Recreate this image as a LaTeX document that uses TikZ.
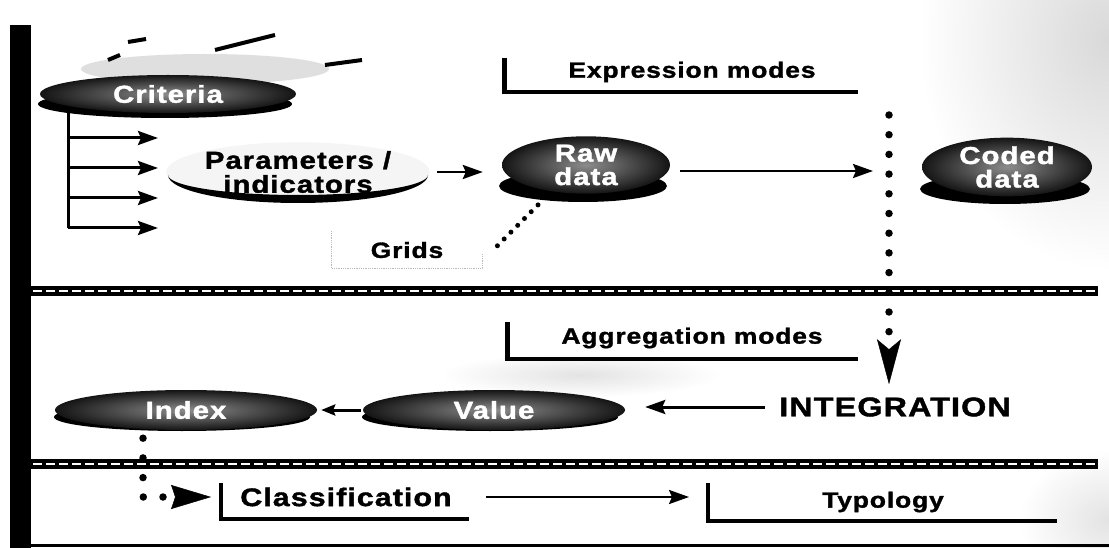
\documentclass[tikz,border=0pt]{standalone}
\usepackage{fontspec}
\newfontfamily\diafont[FakeStretch=1.2, LetterSpace=4, FakeBold=1.5]{Liberation Sans}
\usetikzlibrary{arrows.meta,shapes.geometric}

\begin{document}
\begin{tikzpicture}[x=1pt, y=-1pt,
    blob/.style={ellipse, inner sep=0pt, inner color=black!45, outer color=black!92,
        text=white, align=center, font=\diafont\bfseries\fontsize{24.5}{23.5}\selectfont},
    modelabel/.style={inner sep=0pt, font=\diafont\bfseries\fontsize{22}{22}\selectfont},
    bracket/.style={line width=4.5pt},
    arr/.style={line width=3pt, -{Stealth[length=20pt, width=14pt, inset=3pt]}},
    smallarr/.style={line width=3pt, -{Stealth[length=14pt, width=11pt, inset=2pt]}},
    bigdots/.style={line width=7.5pt, line cap=round, dash pattern=on 0pt off 19.7pt},
    smalldots/.style={line width=5pt, line cap=round, dash pattern=on 0pt off 9.6pt}]

    \fill[white] (0,0) rectangle (1109,548);
    \useasboundingbox (0,0) rectangle (1109,548);

    % grainy backdrop
    \shade[inner color=gray!30, outer color=white] (1109,40) ellipse [x radius=190, y radius=230];
    \shade[inner color=gray!22, outer color=white] (1109,520) ellipse [x radius=90, y radius=70];
    \shade[inner color=gray!22, outer color=white] (580,375) ellipse [x radius=140, y radius=22];

    % frame and separators
    \fill (10,25) rectangle (31,548);
    \draw[line width=3pt] (10,545) -- (1109,545);
    \foreach \y in {291,464} {
        \draw[line width=10pt] (31,\y) -- (1098,\y);
        \draw[white, line width=2.5pt, dash pattern=on 9pt off 4pt] (33,\y) -- (1096,\y);
    }

    % criteria
    \fill[gray!25] (205,69) ellipse [x radius=124, y radius=15];
    \draw[line width=4pt] (108,60) -- (120,55)  (128,42) -- (146,39)
        (215,50) -- (275,35)  (325,65) -- (362,60);
    \fill (165,104) ellipse [x radius=127, y radius=14];
    \node[blob, minimum width=256pt, minimum height=38pt] (crit) at (168,94) {Criteria};

    \coordinate (stem) at (68,113);
    \foreach \i/\y in {1/138, 2/168, 3/198, 4/228}
        \coordinate (c\i) at (158,\y);
    \draw[line width=3pt] (stem) -- (stem |- c4);
    \foreach \i in {1,...,4}
        \draw[arr] (stem |- c\i) -- (c\i);

    % parameters
    \node[ellipse, fill=gray!8, inner sep=0pt, minimum width=260pt, minimum height=56pt,
        align=center, font=\diafont\bfseries\fontsize{24.5}{24}\selectfont] (param) at (298,172)
        {Parameters /\\indicators};
    \fill (428,175) arc[start angle=0, end angle=180, x radius=130, y radius=28]
        arc[start angle=180, end angle=0, x radius=130, y radius=20] -- cycle;

    % raw and coded data
    \fill (583,186) ellipse [x radius=84, y radius=16];
    \node[blob, minimum width=168pt, minimum height=52pt] (raw) at (586,165) {Raw\\data};
    \fill (1005,189) ellipse [x radius=85, y radius=15];
    \node[blob, minimum width=170pt, minimum height=50pt] (coded) at (1007,167) {Coded\\data};

    \draw[arr, line width=2.5pt, shorten <=7pt, shorten >=19pt] (param.east) -- (param.east -| raw.west);
    \coordinate (dtop) at (889,115);
    \coordinate (rawout) at ([yshift=-6pt]raw.east);
    \draw[arr, line width=2.5pt, shorten <=10pt, shorten >=16pt] (rawout) -- (rawout -| dtop);

    % grids
    \node[modelabel, minimum width=150pt, minimum height=37pt] (grids) at (407,250) {Grids};
    \draw[gray!55, densely dotted, line width=0.8pt] (grids.north west) |- (grids.south east)
        -- ([yshift=15pt]grids.south east);
    \draw[smalldots] ([xshift=-48pt, yshift=-11pt]raw.south) -- ([xshift=11pt]grids.east);

    % expression modes
    \node[modelabel] (expr) at (692,72) {Expression modes};
    \draw[bracket] ([shift={(-64,-14)}]expr.west) |- ([shift={(42,20)}]expr.east);

    % aggregation
    \node[modelabel] (aggr) at (692,338) {Aggregation modes};
    \draw[bracket] ([shift={(-54,-16)}]aggr.west) |- ([shift={(35,21)}]aggr.east);

    \node[inner sep=3pt, font=\diafont\bfseries\fontsize{27}{27}\selectfont] (integ) at (895,407) {INTEGRATION};
    \draw[bigdots, -{Stealth[length=45pt, width=24pt, inset=10pt, line width=0.5pt]}, shorten >=10pt]
        (dtop) -- (dtop |- integ.north);

    \fill (490,417) ellipse [x radius=128, y radius=14];
    \node[blob, minimum width=262pt, minimum height=40pt] (value) at (494,410) {Value};
    \fill (182,417) ellipse [x radius=128, y radius=14];
    \node[blob, minimum width=262pt, minimum height=40pt] (index) at (186,410) {Index};

    \draw[arr, shorten <=11pt, shorten >=20pt] (integ.west) -- (integ.west -| value.east);
    \draw[smallarr, shorten <=2pt, shorten >=4pt] (value.west) -- (index.east);

    % classification and typology
    \node[inner sep=0pt, font=\diafont\bfseries\fontsize{25.4}{25.4}\selectfont] (class) at (346,497) {Classification};
    \draw[bracket] ([shift={(-19,-14)}]class.west) coordinate (classtop) |- ([shift={(17,22)}]class.east);
    \node[modelabel] (typ) at (883,502) {Typology};
    \draw[bracket] ([shift={(-114,-19)}]typ.west) coordinate (typtop) |- ([shift={(113,19)}]typ.east);

    \draw[arr, line width=2.5pt, shorten <=34pt, shorten >=19pt] (class.east) -- (class.east -| typtop);
    \draw[bigdots, -{Stealth[length=40pt, width=24pt, inset=4pt, line width=0.5pt]}, shorten >=10pt]
        ([xshift=-43pt, yshift=-8pt]index.south) |- (classtop |- class.west);
\end{tikzpicture}
\end{document}
